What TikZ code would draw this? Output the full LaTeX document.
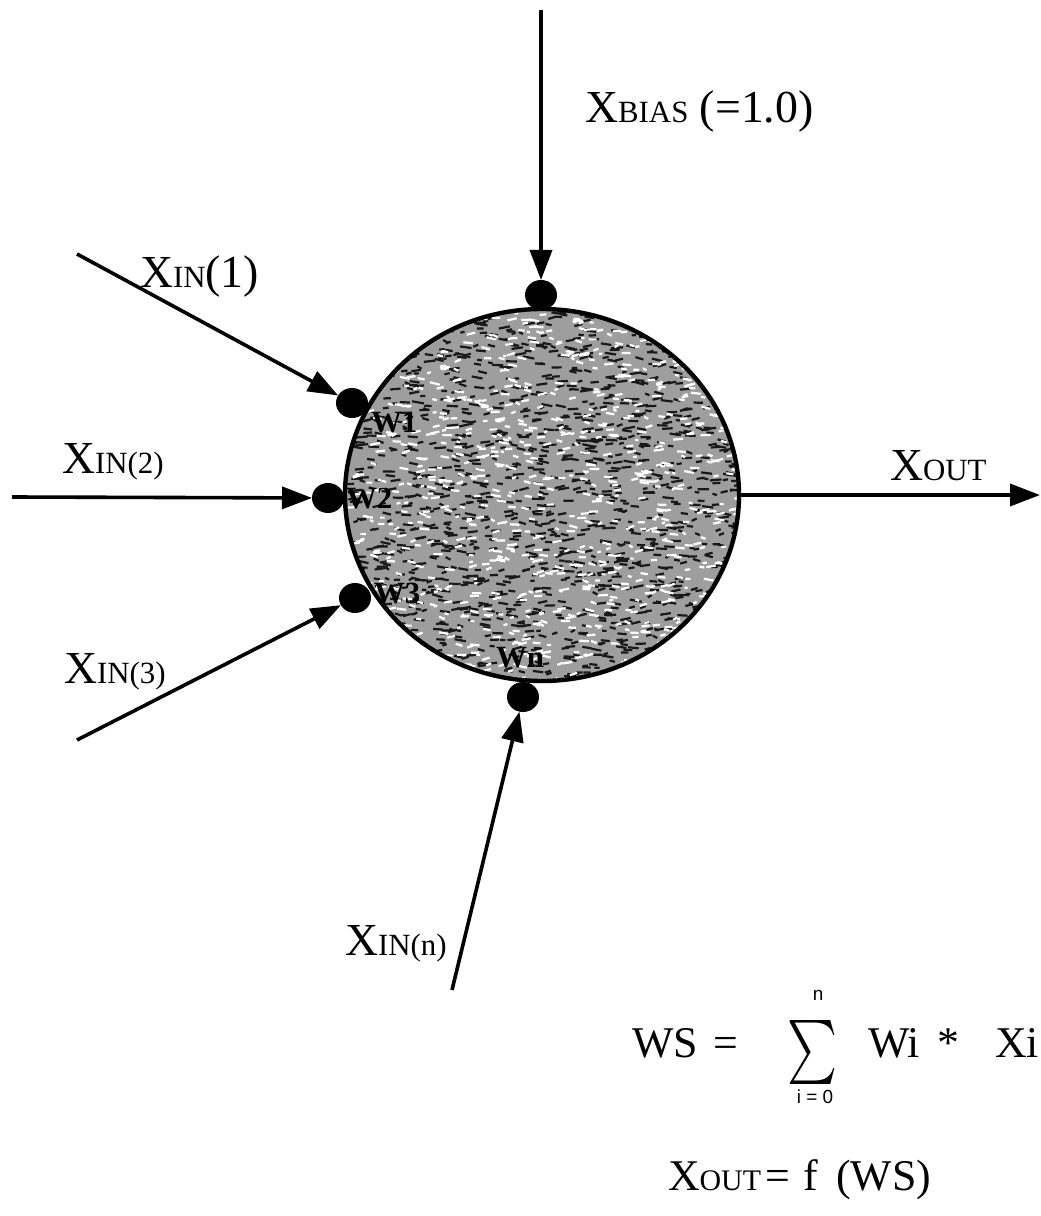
\documentclass[tikz,border=0pt]{standalone}
\usepackage{fontspec}
\setmainfont{Liberation Serif}
\setsansfont{Liberation Sans}
\usetikzlibrary{shapes.geometric,arrows.meta}
\newcommand\smc[1]{{\fontsize{15.5}{18}\selectfont #1}}
\newcommand\fsmc[1]{{\fontsize{15}{17}\selectfont #1}}
\begin{document}
\begin{tikzpicture}[x=0.5bp,y=-0.5bp,
  every node/.style={inner sep=0pt, outer sep=0pt},
  lbl/.style={font=\fontsize{23}{26}\selectfont, anchor=base west},
  wlbl/.style={font=\fontsize{15.5}{18}\selectfont\bfseries, anchor=base west},
  frm/.style={font=\fontsize{22}{25}\selectfont, anchor=base west},
  tiny/.style={font=\sffamily\fontsize{9.5}{11}\selectfont},
  dot/.style={ellipse, fill=black, minimum width=16bp, minimum height=15bp},
  arr/.style={line width=1.8bp, -{Triangle[length=15bp,width=11bp]}}
]
\useasboundingbox (0,0) rectangle (1040,1216);

% speckled body texture
\begin{scope}
\clip (542,495) ellipse [x radius=196, y radius=186];
\fill[black!38] (340,300) rectangle (745,690);
\pgfmathsetseed{11}
\foreach \k in {1,...,1500}{
  \pgfmathsetmacro\rx{542+196*rand}
  \pgfmathsetmacro\ry{495+186*rand}
  \pgfmathsetmacro\rl{4+8*rnd}
  \draw[black!90, line width=1.1bp] (\rx,\ry) -- ++(\rl,2.5*rand);
}
\foreach \k in {1,...,1000}{
  \pgfmathsetmacro\rx{542+196*rand}
  \pgfmathsetmacro\ry{495+186*rand}
  \pgfmathsetmacro\rl{3+7*rnd}
  \draw[white, line width=1.1bp] (\rx,\ry) -- ++(\rl,2.5*rand);
}
\end{scope}

% neuron outline
\node (neuron) [ellipse, draw, line width=2.2bp,
  minimum width=197bp, minimum height=186bp] at (542,495) {};

% weight dots
\node (d0) [dot] at (541,295) {};
\node (d1) [dot] at (352,403) {};
\node (d2) [dot] at (328,498) {};
\node (d3) [dot] at (355,598) {};
\node (dn) [dot] at (523,697) {};

% free ends of connectors
\coordinate (b0) at (541,10);
\coordinate (s1) at (77,254);
\coordinate (s2) at (12,497);
\coordinate (s3) at (77,740);
\coordinate (sn) at (452,990);
\coordinate (oend) at (1040,495);

\draw[arr] (b0) -- (d0);
\draw[arr] (s1) -- (d1);
\draw[arr] (s2) -- (d2);
\draw[arr] (s3) -- (d3);
\draw[arr] (sn) -- (dn);
\draw[arr] (neuron.east) -- (oend);

% labels
\node (lbias) [lbl] at (585,123) {X\smc{BIAS}\ (=1.0)};
\node (lin1) [lbl] at (140,288) {X\smc{IN}(1)};
\node (lin2) [lbl] at (62,473) {X\smc{IN(2)}};
\node (lin3) [lbl] at (64,683) {X\smc{IN(3)}};
\node (linn) [lbl] at (345,955) {X\smc{IN(n)}};
\node (lout) [lbl] at (890,480) {X\smc{OUT}};

\node (w1) [wlbl] at (371,432) {W1};
\node (w2) [wlbl] at (346,508) {W2};
\node (w3) [wlbl] at (374,603) {W3};
\node (wn) [wlbl] at (496,667) {Wn};

% formulas
\node (ws) [frm] at (632,1057) {WS\hspace{8bp}=};
\node (sig) at (812,1052) {\resizebox{25bp}{24bp}{$\sum$}};
\node (supn) [tiny] at (818,995) {n};
\node (sub0) [tiny] at (815,1097) {i = 0};
\node (wi) [frm] at (868,1057) {Wi};
\node (star) [frm, anchor=base] at (948,1057) {*};
\node (xi) [frm, anchor=base east] at (1039,1057) {Xi};
\node (fx) [frm] at (668,1190) {X\fsmc{OUT}\hspace{2bp}=\hspace{7bp}f\hspace{9bp}(WS)};
\end{tikzpicture}
\end{document}
